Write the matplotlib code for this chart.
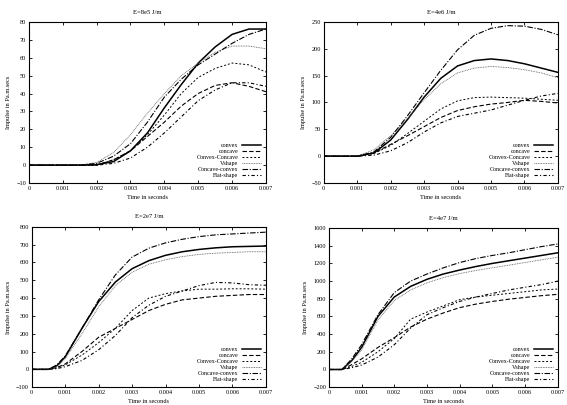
import numpy as np
import matplotlib
matplotlib.use('Agg')
import matplotlib.pyplot as plt

plt.rcParams['font.family'] = ['Liberation Serif', 'DejaVu Serif']

# legend order
series_names = ['convex', 'concave', 'Convex-Concave', 'Vshape', 'Concave-convex', 'Flat-shape']

# ---- E=8e5 J/m ----
t1 = [0, 0.0015, 0.002, 0.0025, 0.003, 0.0035, 0.004, 0.0045, 0.005, 0.0055, 0.006, 0.0065, 0.007]
p1_convex = [0, 0, 0.3, 2, 8, 18, 32, 45, 57, 66, 73, 76, 76]
p1_concave = [0, 0, 0, 3, 8, 16, 24, 33, 40, 44.5, 46, 44, 41]
p1_cvcc = [0, 0, 0, 3, 8, 17, 28, 40, 49, 54, 57, 56, 52]
p1_vshape = [0, 0, 1.5, 7, 17, 29, 40, 50, 57, 63, 66.5, 66.5, 65]
p1_ccvx = [0, 0, 1, 5, 12, 24, 38, 48, 56, 62, 68, 73, 76]
p1_flat = [0, 0, 0, 1, 4, 10, 18, 27, 36, 42, 46, 46, 44]

# ---- E=4e6 J/m ----
t2 = [0, 0.001, 0.0015, 0.002, 0.0025, 0.003, 0.0035, 0.004, 0.0045, 0.005, 0.0055, 0.006, 0.0065, 0.007]
p2_convex = [0, 0, 6, 30, 68, 110, 145, 168, 178, 181, 178, 172, 164, 156]
p2_concave = [0, 0, 6, 22, 38, 55, 72, 85, 92, 97, 100, 104, 102, 99]
p2_cvcc = [0, 0, 5, 20, 42, 65, 88, 103, 109, 110, 109, 108, 106, 104]
p2_vshape = [0, 0, 12, 38, 70, 105, 135, 155, 164, 167, 165, 161, 155, 146]
p2_ccvx = [0, 0, 8, 35, 75, 118, 160, 198, 225, 238, 243, 242, 236, 226]
p2_flat = [0, 0, 2, 10, 25, 45, 62, 74, 80, 86, 95, 104, 112, 117]

# ---- E=2e7 J/m ----
t3 = [0, 0.0005, 0.00075, 0.001, 0.0015, 0.002, 0.0025, 0.003, 0.0035, 0.004, 0.0045, 0.005, 0.0055, 0.006, 0.0065, 0.007]
p3_convex = [0, 0, 20, 70, 230, 380, 490, 565, 610, 640, 660, 673, 682, 688, 690, 692]
p3_concave = [0, 0, 10, 30, 100, 180, 230, 280, 330, 365, 390, 400, 410, 415, 420, 420]
p3_cvcc = [0, 0, 8, 25, 80, 150, 230, 330, 400, 425, 440, 450, 450, 452, 452, 450]
p3_vshape = [0, 0, 15, 60, 200, 350, 470, 545, 590, 615, 633, 645, 652, 656, 660, 660]
p3_ccvx = [0, 0, 25, 75, 230, 390, 530, 630, 680, 710, 730, 745, 755, 760, 765, 770]
p3_flat = [0, 0, 4, 15, 50, 110, 190, 290, 360, 410, 440, 470, 488, 485, 475, 472]

# ---- E=4e7 J/m ----
t4 = [0, 0.0004, 0.0007, 0.001, 0.0015, 0.002, 0.0025, 0.003, 0.0035, 0.004, 0.0045, 0.005, 0.0055, 0.006, 0.0065, 0.007]
p4_convex = [0, 0, 100, 250, 600, 820, 940, 1020, 1080, 1125, 1165, 1200, 1230, 1260, 1290, 1320]
p4_concave = [0, 0, 55, 120, 250, 360, 480, 570, 640, 700, 740, 770, 795, 815, 835, 850]
p4_cvcc = [0, 0, 35, 80, 200, 350, 570, 650, 720, 790, 820, 840, 860, 880, 900, 910]
p4_vshape = [0, 0, 90, 220, 560, 780, 900, 980, 1040, 1085, 1120, 1150, 1180, 1210, 1240, 1270]
p4_ccvx = [0, 0, 120, 280, 620, 870, 1000, 1080, 1150, 1210, 1255, 1290, 1320, 1355, 1390, 1420]
p4_flat = [0, 0, 20, 50, 140, 280, 470, 620, 700, 770, 820, 860, 900, 930, 960, 1000]

titles = ['E=8e5 J/m', 'E=4e6 J/m', 'E=2e7 J/m', 'E=4e7 J/m']
x_ticks = [0, 0.001, 0.002, 0.003, 0.004, 0.005, 0.006, 0.007]
x_ticklabels = ['0', '0.001', '0.002', '0.003', '0.004', '0.005', '0.006', '0.007']

panels = [
    (t1, [p1_convex, p1_concave, p1_cvcc, p1_vshape, p1_ccvx, p1_flat], (-10, 80), 10),
    (t2, [p2_convex, p2_concave, p2_cvcc, p2_vshape, p2_ccvx, p2_flat], (-50, 250), 50),
    (t3, [p3_convex, p3_concave, p3_cvcc, p3_vshape, p3_ccvx, p3_flat], (-100, 800), 100),
    (t4, [p4_convex, p4_concave, p4_cvcc, p4_vshape, p4_ccvx, p4_flat], (-200, 1600), 200),
]

# line styles (gnuplot-like, all black)
styles = [
    dict(color='black', lw=1.1, linestyle='-'),
    dict(color='black', lw=0.8, linestyle=(0, (4, 2))),
    dict(color='black', lw=0.7, linestyle=(0, (2, 2))),
    dict(color='#555555', lw=0.6, linestyle=(0, (1, 1))),
    dict(color='black', lw=0.8, linestyle=(0, (5, 1.5, 1, 1.5))),
    dict(color='black', lw=0.8, linestyle=(0, (3, 2, 1, 2))),
]

# axes rectangles [left, bottom, width, height]
rects = [
    [0.051, 0.548, 0.418, 0.398],
    [0.571, 0.548, 0.413, 0.398],
    [0.056, 0.044, 0.413, 0.396],
    [0.580, 0.044, 0.404, 0.393],
]

fig = plt.figure(figsize=(5.67, 4.05), dpi=100)

for k in range(4):
    t, ys, ylim, ystep = panels[k]
    ax = fig.add_axes(rects[k])
    for name, y, st in zip(series_names, ys, styles):
        ax.plot(t, y, label=name, **st)
    ax.set_xlim(0, 0.007)
    ax.set_ylim(*ylim)
    ax.set_xticks(x_ticks)
    ax.set_xticklabels(x_ticklabels)
    ax.set_yticks(np.arange(ylim[0], ylim[1] + 1, ystep))
    ax.tick_params(direction='in', top=True, right=True, labelsize=4.5,
                   length=2.5, width=0.6, pad=2)
    for sp in ax.spines.values():
        sp.set_linewidth(0.8)
    ax.set_title(titles[k], fontsize=4.8, pad=6)
    ax.set_xlabel('Time in seconds', fontsize=4.5, labelpad=3)
    ax.set_ylabel('Impulse in Pa.m.secs', fontsize=4.5, labelpad=4)
    leg = ax.legend(loc='lower right', frameon=False, fontsize=4.3,
                    markerfirst=False, handlelength=3.2, labelspacing=0.15,
                    handletextpad=0.6, borderaxespad=0.4)

plt.savefig('out.png', dpi=100)
